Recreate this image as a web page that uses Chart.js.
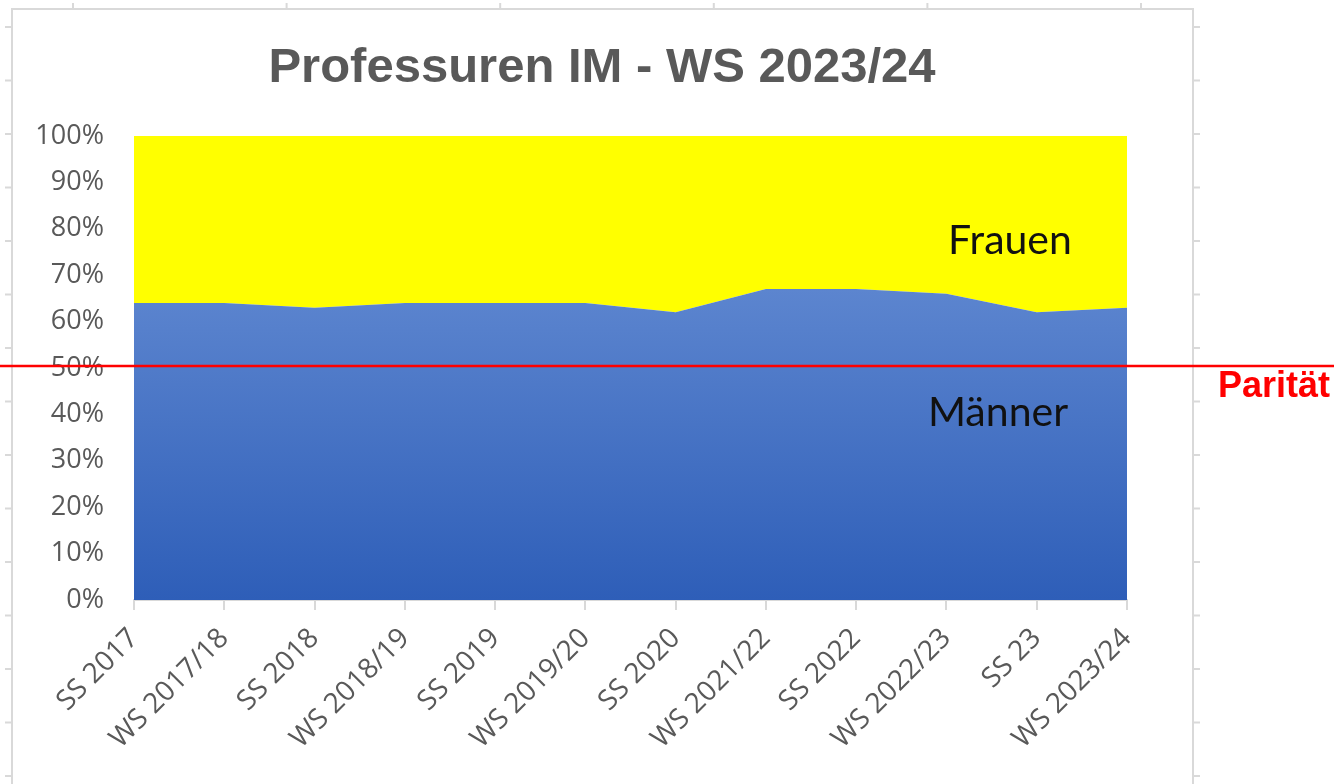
<!DOCTYPE html>
<html>
<head>
<meta charset="utf-8">
<script src="https://cdn.jsdelivr.net/npm/chart.js@4.4.1/dist/chart.umd.min.js"></script>
<style>
  body { margin: 0; background: #fff; }
  #wrap { position: absolute; left: 0; top: 0; width: 1334px; height: 784px; }
</style>
</head>
<body>
<div id="wrap"><canvas id="profChart"></canvas></div>
<script>
// Semester labels
const semester = ['SS 2017', 'WS 2017/18', 'SS 2018', 'WS 2018/19', 'SS 2019', 'WS 2019/20',
  'SS 2020', 'WS 2021/22', 'SS 2022', 'WS 2022/23', 'SS 23', 'WS 2023/24'];
// share in percent
const maenner = [64, 64, 63, 64, 64, 64, 62, 67, 67, 66, 62, 63];
const frauen = [36, 36, 37, 36, 36, 36, 38, 33, 33, 34, 38, 37];
const yTicks = [0, 10, 20, 30, 40, 50, 60, 70, 80, 90, 100];
const paritaet = 50;

const grey = '#595959';

// spreadsheet frame behind the chart + title, labels, parity line
const deko = {
  id: 'deko',
  beforeDraw(chart) {
    const c = chart.ctx;
    c.save();
    c.strokeStyle = '#d9d9d9';
    c.lineWidth = 2;
    c.beginPath();
    c.moveTo(12, 784); c.lineTo(12, 9); c.lineTo(1193, 9); c.lineTo(1193, 784);
    for (let y = 27; y < 784; y += 53.5) {
      c.moveTo(5, y); c.lineTo(12, y);
      c.moveTo(1193, y); c.lineTo(1200, y);
    }
    for (let x = 73; x < 1193; x += 213.6) {
      c.moveTo(x, 3); c.lineTo(x, 9);
    }
    c.stroke();
    c.restore();
  },
  afterDraw(chart) {
    const c = chart.ctx;
    const ys = chart.scales.y;
    c.save();
    c.fillStyle = grey;
    c.font = 'bold 49px "Liberation Sans", Arial, sans-serif';
    c.textAlign = 'center';
    c.textBaseline = 'alphabetic';
    c.fillText('Professuren IM - WS 2023/24', 602, 82);

    c.fillStyle = '#111';
    c.font = '41px Lato, sans-serif';
    c.fillText('Frauen', 1010, ys.getPixelForValue(78) + 16);
    c.fillText('Männer', 998, ys.getPixelForValue(41) + 16);

    const yp = ys.getPixelForValue(paritaet) - 2;
    c.strokeStyle = '#ff0000';
    c.lineWidth = 2.5;
    c.beginPath();
    c.moveTo(0, yp); c.lineTo(chart.width, yp);
    c.stroke();
    c.fillStyle = '#ff0000';
    c.font = 'bold 36px "Liberation Sans", Arial, sans-serif';
    c.textAlign = 'right';
    c.fillText('Parität', 1330, yp + 31);
    c.restore();
  }
};

function blauVerlauf(context) {
  const chart = context.chart;
  const area = chart.chartArea;
  if (!area) return '#4472c4';
  const top = chart.scales.y.getPixelForValue(Math.max(...maenner));
  const g = chart.ctx.createLinearGradient(0, area.bottom, 0, top);
  g.addColorStop(0, '#2e5eb8');
  g.addColorStop(1, '#5c85cf');
  return g;
}

new Chart(document.getElementById('profChart'), {
  type: 'line',
  data: {
    labels: semester,
    datasets: [{
      label: 'Männer',
      data: maenner,
      fill: 'origin',
      backgroundColor: blauVerlauf,
      borderWidth: 0,
      pointRadius: 0,
      tension: 0
    }, {
      label: 'Frauen',
      data: frauen,
      fill: '-1',
      backgroundColor: '#ffff00',
      borderWidth: 0,
      pointRadius: 0,
      tension: 0
    }]
  },
  options: {
    responsive: true,
    maintainAspectRatio: false,
    animation: false,
    layout: { padding: { top: 136, right: 207, bottom: 0, left: 0 } },
    plugins: {
      legend: { display: false },
      tooltip: { enabled: false },
      title: { display: false }
    },
    scales: {
      x: {
        offset: false,
        afterFit(s) { s.height = 184; },
        grid: { display: true, drawOnChartArea: false, drawTicks: true, tickLength: 10, color: '#d9d9d9', lineWidth: 2 },
        border: { display: true, color: '#d9d9d9', width: 2 },
        ticks: {
          autoSkip: false,
          maxRotation: 45,
          minRotation: 45,
          padding: 12,
          color: grey,
          font: { family: '"Open Sans", sans-serif', size: 28 }
        }
      },
      y: {
        stacked: true,
        min: 0,
        max: 100,
        afterFit(s) { s.width = 134; },
        afterBuildTicks(s) { s.ticks = yTicks.map(v => ({ value: v })); },
        grid: { display: false },
        border: { display: false },
        ticks: {
          padding: 22,
          color: grey,
          font: { family: '"Open Sans", sans-serif', size: 27 },
          callback: v => v + '%'
        }
      }
    }
  },
  plugins: [deko]
});
</script>
</body>
</html>
